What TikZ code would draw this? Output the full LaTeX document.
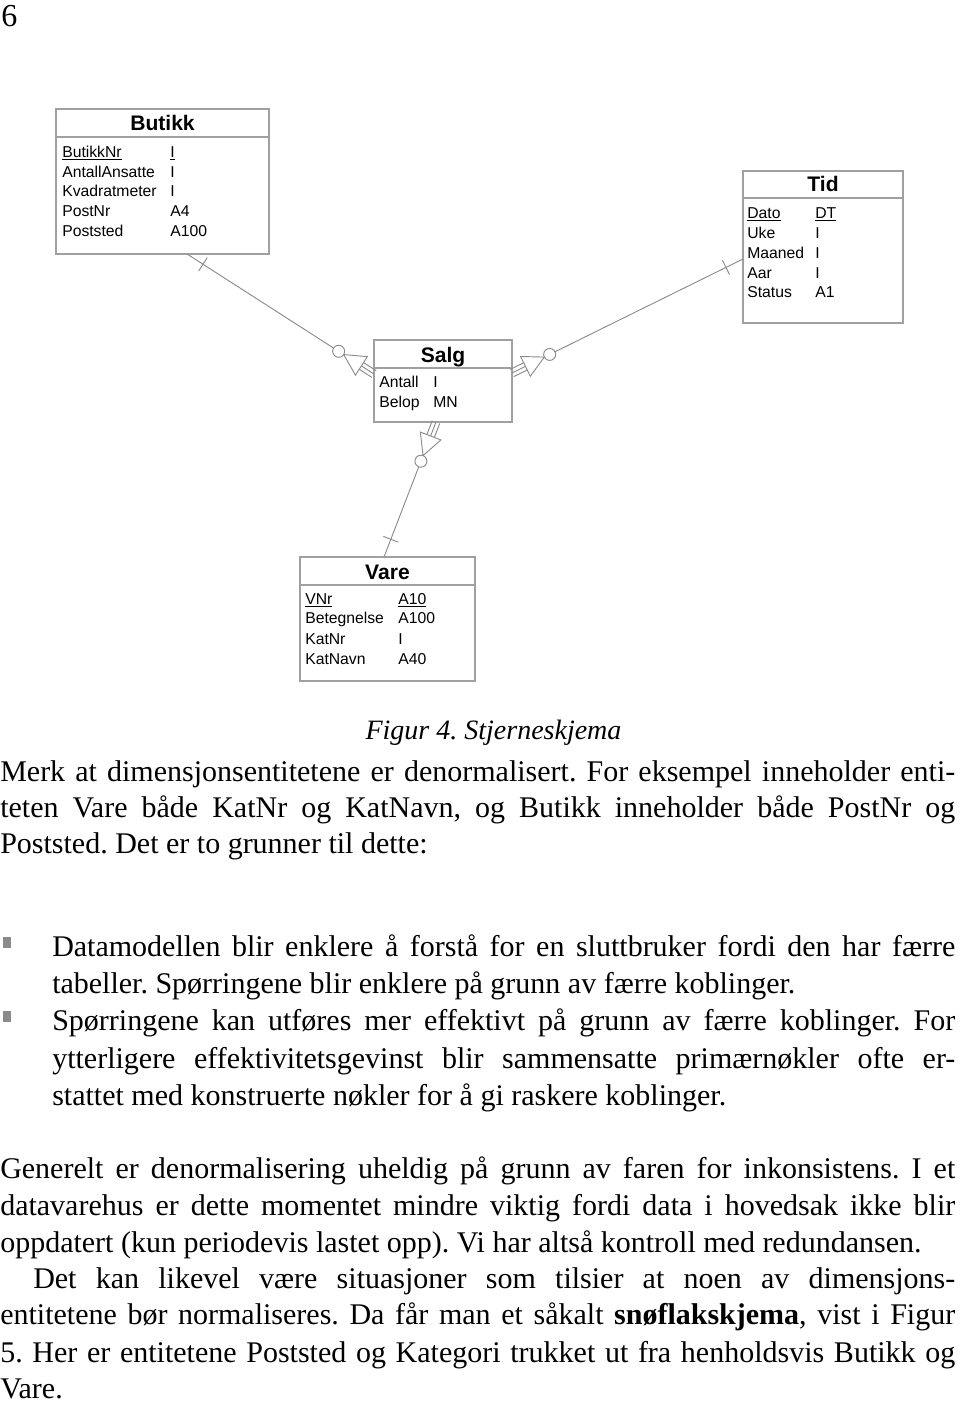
\documentclass[tikz,border=0pt]{standalone}
\usepackage{fontspec}
\setmainfont{Liberation Serif}
\newfontfamily\arialf{Liberation Sans}
\usetikzlibrary{calc,fit}
\frenchspacing
\definecolor{boxgray}{HTML}{A0A0A0}
\definecolor{linegray}{HTML}{8C8C8C}
\definecolor{bulletgray}{HTML}{8A8A8A}
\tikzset{
  entbox/.style={draw=boxgray, line width=0.9pt, inner sep=0pt},
  sepline/.style={draw=boxgray, line width=0.9pt},
  conn/.style={draw=linegray, line width=0.7pt},
  rowtxt/.style={anchor=base west, inner sep=0pt, font=\arialf\fontsize{11.8}{13}\selectfont},
  titletxt/.style={anchor=base, inner sep=0pt, font=\arialf\bfseries\fontsize{15.8}{18}\selectfont},
  body/.style={anchor=base west, inner sep=0pt, font=\frenchspacing\fontsize{22.5}{26}\selectfont},
  bulletsq/.style={fill=bulletgray, draw=none}
}
% #1 = end at the fact table (Salg), #2 = end at the dimension table
\newcommand\erlink[2]{%
  \coordinate (tb) at ($(#1)!11.25pt!(#2)$);
  \coordinate (ta) at ($(#1)!27pt!(#2)$);
  \coordinate (cc) at ($(#1)!31.5pt!(#2)$);
  \coordinate (ce) at ($(#1)!36pt!(#2)$);
  \coordinate (tk) at ($(#2)!14.25pt!(#1)$);
  \draw[conn] (#1) -- (tb);
  \draw[conn] ($(#1)!3pt!90:(#2)$) -- ($(tb)!3pt!90:(#2)$);
  \draw[conn] ($(#1)!3pt!-90:(#2)$) -- ($(tb)!3pt!-90:(#2)$);
  \draw[conn] ($(tb)!8.25pt!90:(#2)$) -- (ta) -- ($(tb)!8.25pt!-90:(#2)$) -- cycle;
  \draw[conn] (cc) circle (4.5pt);
  \draw[conn] (ce) -- (#2);
  \draw[conn] ($(tk)!6pt!90:(#2)$) -- ($(tk)!6pt!-90:(#2)$);
}
\begin{document}
\begin{tikzpicture}[x=0.75pt, y=-0.75pt]
\fill[white] (0,0) rectangle (960,1402);
\useasboundingbox (0,0) rectangle (960,1402);

\node[body, font=\fontsize{24}{26}\selectfont] (pagenum) at (1,27) {6};

% ---------- Butikk ----------
\node[entbox, fit={(56,109) (269,254)}] (butikk) {};
\draw[sepline] (56,137) -- (269,137);
\node[titletxt] (butikkT) at (162.5,130.5) {Butikk};
\node[rowtxt] (b1a) at (62,157) {\underline{ButikkNr}};
\node[rowtxt] (b1b) at (170,157) {\underline{I}};
\node[rowtxt] (b2a) at (62,177) {AntallAnsatte};
\node[rowtxt] (b2b) at (170,177) {I};
\node[rowtxt] (b3a) at (62,196.5) {Kvadratmeter};
\node[rowtxt] (b3b) at (170,196.5) {I};
\node[rowtxt] (b4a) at (62,216) {PostNr};
\node[rowtxt] (b4b) at (170,216) {A4};
\node[rowtxt] (b5a) at (62,236) {Poststed};
\node[rowtxt] (b5b) at (170,236) {A100};

% ---------- Tid ----------
\node[entbox, fit={(743,171) (903,323)}] (tid) {};
\draw[sepline] (743,198) -- (903,198);
\node[titletxt] (tidT) at (823,191.5) {Tid};
\node[rowtxt] (t1a) at (747,218) {\underline{Dato}};
\node[rowtxt] (t1b) at (815,218) {\underline{DT}};
\node[rowtxt] (t2a) at (747,238) {Uke};
\node[rowtxt] (t2b) at (815,238) {I};
\node[rowtxt] (t3a) at (747,258) {Maaned};
\node[rowtxt] (t3b) at (815,258) {I};
\node[rowtxt] (t4a) at (747,278) {Aar};
\node[rowtxt] (t4b) at (815,278) {I};
\node[rowtxt] (t5a) at (747,297) {Status};
\node[rowtxt] (t5b) at (815,297) {A1};

% ---------- Salg ----------
\node[entbox, fit={(374,340) (512,422)}] (salg) {};
\draw[sepline] (374,368) -- (512,368);
\node[titletxt] (salgT) at (443,362.5) {Salg};
\node[rowtxt] (s1a) at (379,387) {Antall};
\node[rowtxt] (s1b) at (433,387) {I};
\node[rowtxt] (s2a) at (379,407) {Belop};
\node[rowtxt] (s2b) at (433,407) {MN};

% ---------- Vare ----------
\node[entbox, fit={(300,557) (475,681)}] (vare) {};
\draw[sepline] (300,585) -- (475,585);
\node[titletxt] (vareT) at (387.5,579.5) {Vare};
\node[rowtxt] (v1a) at (305,604) {\underline{VNr}};
\node[rowtxt] (v1b) at (398,604) {\underline{A10}};
\node[rowtxt] (v2a) at (305,623.5) {Betegnelse};
\node[rowtxt] (v2b) at (398,623.5) {A100};
\node[rowtxt] (v3a) at (305,644) {KatNr};
\node[rowtxt] (v3b) at (398,644) {I};
\node[rowtxt] (v4a) at (305,664) {KatNavn};
\node[rowtxt] (v4b) at (398,664) {A40};

% ---------- connectors ----------
\coordinate (f1) at (374,374);
\coordinate (e1) at (187,254);
\coordinate (f2) at (512,373);
\coordinate (e2) at (743,259);
\coordinate (f3) at (436,422);
\coordinate (e3) at (384,557);
\erlink{f1}{e1}
\erlink{f2}{e2}
\erlink{f3}{e3}

% ---------- caption ----------
\node[anchor=base, inner sep=0pt, font=\frenchspacing\itshape\fontsize{21}{24}\selectfont] (caption) at (493.5,739) {Figur 4. Stjerneskjema};

% ---------- body text ----------
\node[body] (p1a) at (0,781) {\makebox[716.25pt][s]{Merk at dimensjonsentitetene er denormalisert. For eksempel inneholder enti-}};
\node[body] (p1b) at (0,817) {\makebox[716.25pt][s]{teten Vare både KatNr og KatNavn, og Butikk inneholder både PostNr og}};
\node[body] (p1c) at (0,853) {Poststed. Det er to grunner til dette:};

\fill[bulletsq] (3,937) rectangle (11,948);
\node[body] (i1a) at (52,956) {\makebox[677.25pt][s]{Datamodellen blir enklere å forstå for en sluttbruker fordi den har færre}};
\node[body] (i1b) at (52,993) {tabeller. Spørringene blir enklere på grunn av færre koblinger.};
\fill[bulletsq] (3,1011) rectangle (11,1022);
\node[body] (i2a) at (52,1030) {\makebox[677.25pt][s]{Spørringene kan utføres mer effektivt på grunn av færre koblinger. For}};
\node[body] (i2b) at (52,1068) {\makebox[677.25pt][s]{ytterligere effektivitetsgevinst blir sammensatte primærnøkler ofte er-}};
\node[body] (i2c) at (52,1105) {stattet med konstruerte nøkler for å gi raskere koblinger.};

\node[body] (p2a) at (0,1178) {\makebox[716.25pt][s]{Generelt er denormalisering uheldig på grunn av faren for inkonsistens. I et}};
\node[body] (p2b) at (0,1215) {\makebox[716.25pt][s]{datavarehus er dette momentet mindre viktig fordi data i hovedsak ikke blir}};
\node[body] (p2c) at (0,1252) {oppdatert (kun periodevis lastet opp). Vi har altså kontroll med redundansen.};
\node[body] (p3a) at (33,1288) {\makebox[691.5pt][s]{Det kan likevel være situasjoner som tilsier at noen av dimensjons-}};
\node[body] (p3b) at (0,1324) {\makebox[716.25pt][s]{entitetene bør normaliseres. Da får man et såkalt \textbf{snøflakskjema}, vist i Figur}};
\node[body] (p3c) at (0,1362) {\makebox[716.25pt][s]{5. Her er entitetene Poststed og Kategori trukket ut fra henholdsvis Butikk og}};
\node[body] (p3d) at (0,1398) {Vare.};
\end{tikzpicture}
\end{document}
